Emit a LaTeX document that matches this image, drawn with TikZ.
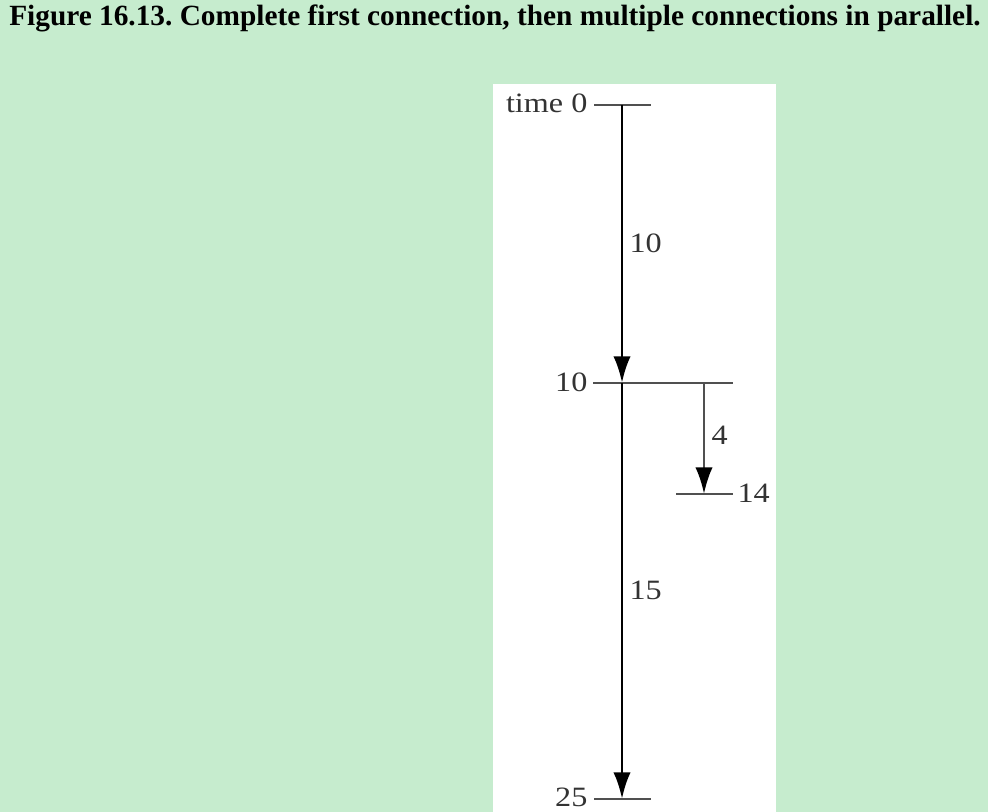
\documentclass[tikz,border=0pt]{standalone}
\usepackage{fontspec}
\setmainfont{Liberation Serif}
\newfontfamily\labelfont[FakeStretch=1.15]{Liberation Serif}
\usetikzlibrary{arrows.meta}
\definecolor{pagegreen}{RGB}{198,236,206}
\definecolor{tickgray}{RGB}{80,80,80}
\frenchspacing
\begin{document}
\begin{tikzpicture}[x=0.75pt, y=-0.75pt,
    timeline/.style={line width=2.2pt, draw=black, -{Latex[length=20pt, width=13pt]}},
    branchline/.style={line width=2pt, draw=tickgray, -{Latex[length=20pt, width=13pt, color=black]}},
    tickline/.style={line width=2pt, draw=tickgray},
    timelabel/.style={font=\labelfont\fontsize{21}{21}\selectfont, text=black!80, inner sep=1pt},
    titletext/.style={font=\bfseries\fontsize{22}{24}\selectfont, inner sep=0pt}]
        \fill[pagegreen] (0,0) rectangle (988,812);
        \fill[white] (493,84) rectangle (776,812);
        \useasboundingbox (0,0) rectangle (988,812);

        \node[titletext] (title) at(495,18){Figure 16.13. Complete first connection, then multiple connections in parallel.};

        \coordinate (t0) at(622,105);
        \coordinate (t10) at(622,383);
        \coordinate (t25) at(622,799);
        \coordinate (b10) at(704,383);
        \coordinate (b14) at(704,494);

        \draw[tickline] (594,105) -- (651,105);
        \draw[tickline] (593,383) -- (733,383);
        \draw[tickline] (676,494) -- (733,494);
        \draw[tickline] (594,799) -- (651,799);

        \draw[timeline] (t0) -- (t10);
        \draw[timeline] (t10) -- (t25);
        \draw[branchline] (b10) -- (b14);

        \node[timelabel, anchor=east] (time-0) at(589,103){time 0};
        \node[timelabel, anchor=east] (time-10) at(589,382){10};
        \node[timelabel, anchor=east] (time-25) at(589,797){25};
        \node[timelabel, anchor=west] (time-14) at(736,493){14};

        \node[timelabel, anchor=west] (len-10) at(628,243){10};
        \node[timelabel, anchor=west] (len-4) at(710,435){4};
        \node[timelabel, anchor=west] (len-15) at(628,590){15};

      \end{tikzpicture}
\end{document}
